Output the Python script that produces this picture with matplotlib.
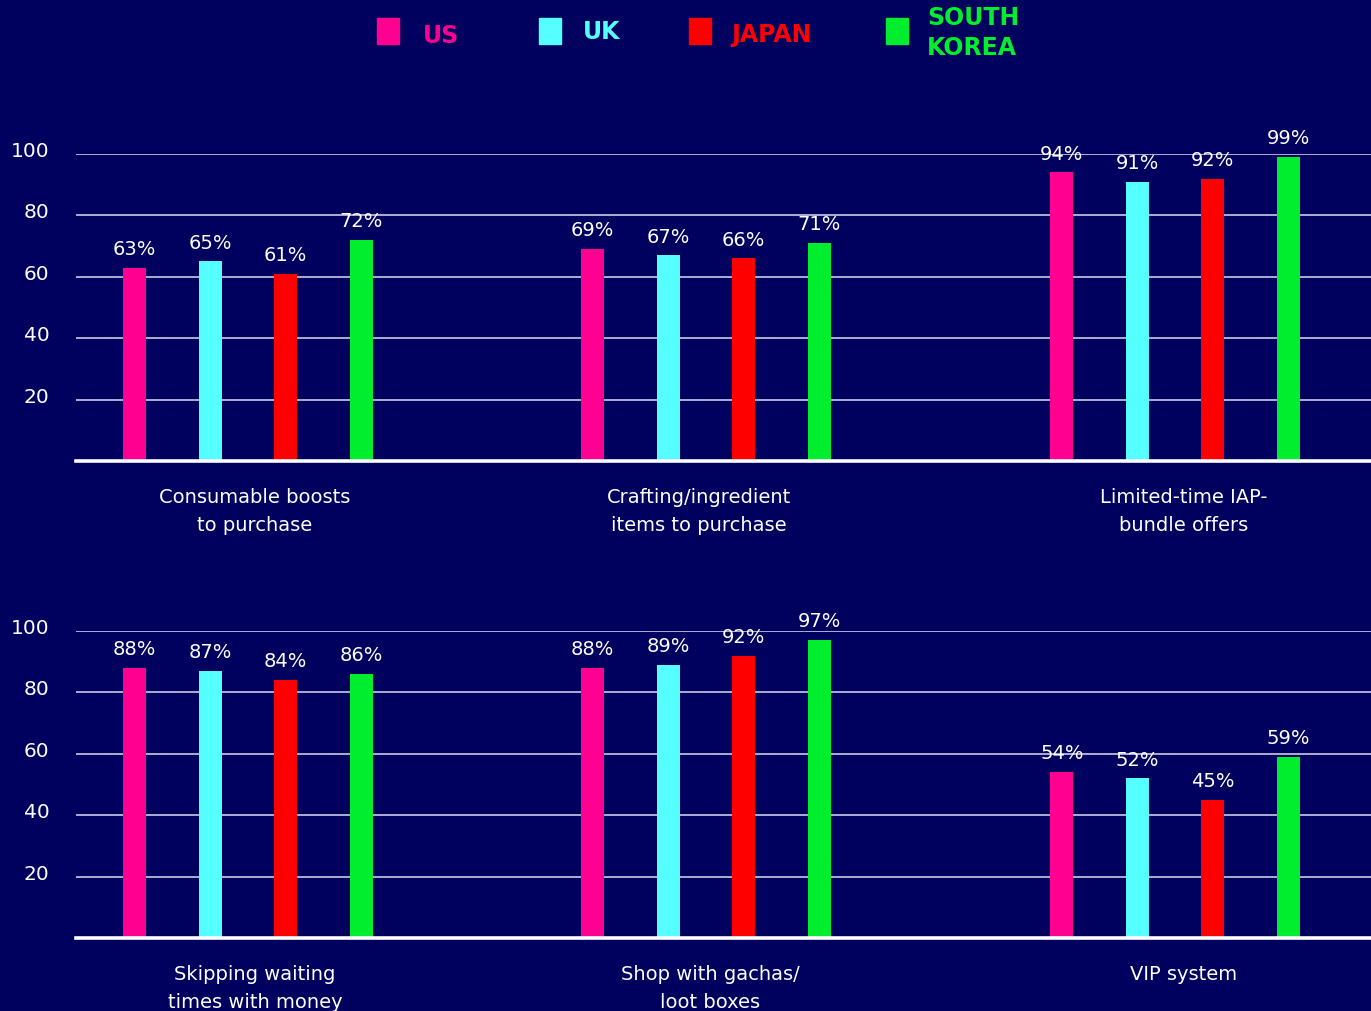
import numpy as np
import matplotlib.pyplot as plt
from matplotlib.patches import Rectangle
from matplotlib.transforms import ScaledTranslation

countries = ["US", "UK", "JAPAN", "SOUTH\nKOREA"]
colors = ["#ff0090", "#55ffff", "#ff0000", "#00ee2e"]

top_categories = ["Consumable boosts\nto purchase",
                  "Crafting/ingredient\nitems to purchase",
                  "Limited-time IAP-\nbundle offers"]
bottom_categories = ["Skipping waiting\ntimes with money",
                     "Shop with gachas/\nloot boxes",
                     "VIP system"]

# share of players per country, one list per country, ordered as the categories
top_values = {
    "US": [63, 69, 94],
    "UK": [65, 67, 91],
    "JAPAN": [61, 66, 92],
    "SOUTH\nKOREA": [72, 71, 99],
}
bottom_values = {
    "US": [88, 88, 54],
    "UK": [87, 89, 52],
    "JAPAN": [84, 92, 45],
    "SOUTH\nKOREA": [86, 97, 59],
}

bg = "#00005e"
plt.rcParams['font.family'] = ['DejaVu Sans']

fig = plt.figure(figsize=(13.71, 10.12), dpi=100, facecolor=bg)

W, H = 1371, 1012
def axes_rect(top_px, bottom_px, left_px=76, right_px=1371):
    return [left_px / W, 1 - bottom_px / H, (right_px - left_px) / W, (bottom_px - top_px) / H]

ax_top = fig.add_axes(axes_rect(155, 462))
ax_bot = fig.add_axes(axes_rect(632, 939))

# x axis runs in pixel-like units across the panel
group_x = np.array([248, 706, 1175])
label_shift = {0: [7, -7, 9], 1: [7, 4, 9]}
step = 75.5
width = 23
offsets = (np.arange(len(countries)) - 1.5) * step

def draw_panel(ax, categories, values, row):
    ax.set_facecolor(bg)
    for k, (country, color) in enumerate(zip(countries, colors)):
        bars = ax.bar(group_x + offsets[k], values[country], width=width, color=color, zorder=3)
        for rect, v in zip(bars, values[country]):
            ax.annotate(f"{v}%", (rect.get_x() + rect.get_width() / 2, v),
                        xytext=(0, 7), textcoords="offset points",
                        ha="center", va="bottom", color="white", fontsize=14,
                        annotation_clip=False, zorder=4)
    for gx, dx, cat in zip(group_x, label_shift[row], categories):
        ax.annotate(cat, (gx + dx, 0), xycoords="data", xytext=(0, -19),
                    textcoords="offset points", ha="center", va="top",
                    color="white", fontsize=14, linespacing=1.55,
                    annotation_clip=False)
    ax.set_xlim(76, 1371)
    ax.set_ylim(0, 100)
    ax.set_yticks([20, 40, 60, 80, 100])
    ax.set_xticks([])
    for y in [20, 40, 60, 80, 100]:
        ax.axhline(y, color="#dcdcf0", lw=1.1, zorder=1)
    ax.axhline(0, color="white", lw=2.6, zorder=5, clip_on=False)
    for s in ax.spines.values():
        s.set_visible(False)
    ax.tick_params(axis="y", length=0, pad=19, labelsize=14.5, labelcolor="white")
    shift = ScaledTranslation(0, 4 / 72, fig.dpi_scale_trans)
    for lab in ax.get_yticklabels():
        lab.set_transform(lab.get_transform() + shift)

draw_panel(ax_top, top_categories, top_values, 0)
draw_panel(ax_bot, bottom_categories, bottom_values, 1)

# legend across the top
legend_x = [377, 539, 689, 886]
text_x = [423, 583, 731, 927]
text_y = [36, 32, 35, 33]
for country, color, lx, tx, ty in zip(countries, colors, legend_x, text_x, text_y):
    fig.patches.append(Rectangle((lx / W, 1 - 45 / H), 22 / W, 26 / H,
                                 transform=fig.transFigure, color=color))
    fig.text(tx / W, 1 - ty / H, country, color=color, fontsize=17,
             fontweight="bold", ha="left", va="center", linespacing=1.3)

fig.savefig("out.png", dpi=100, facecolor=bg)
